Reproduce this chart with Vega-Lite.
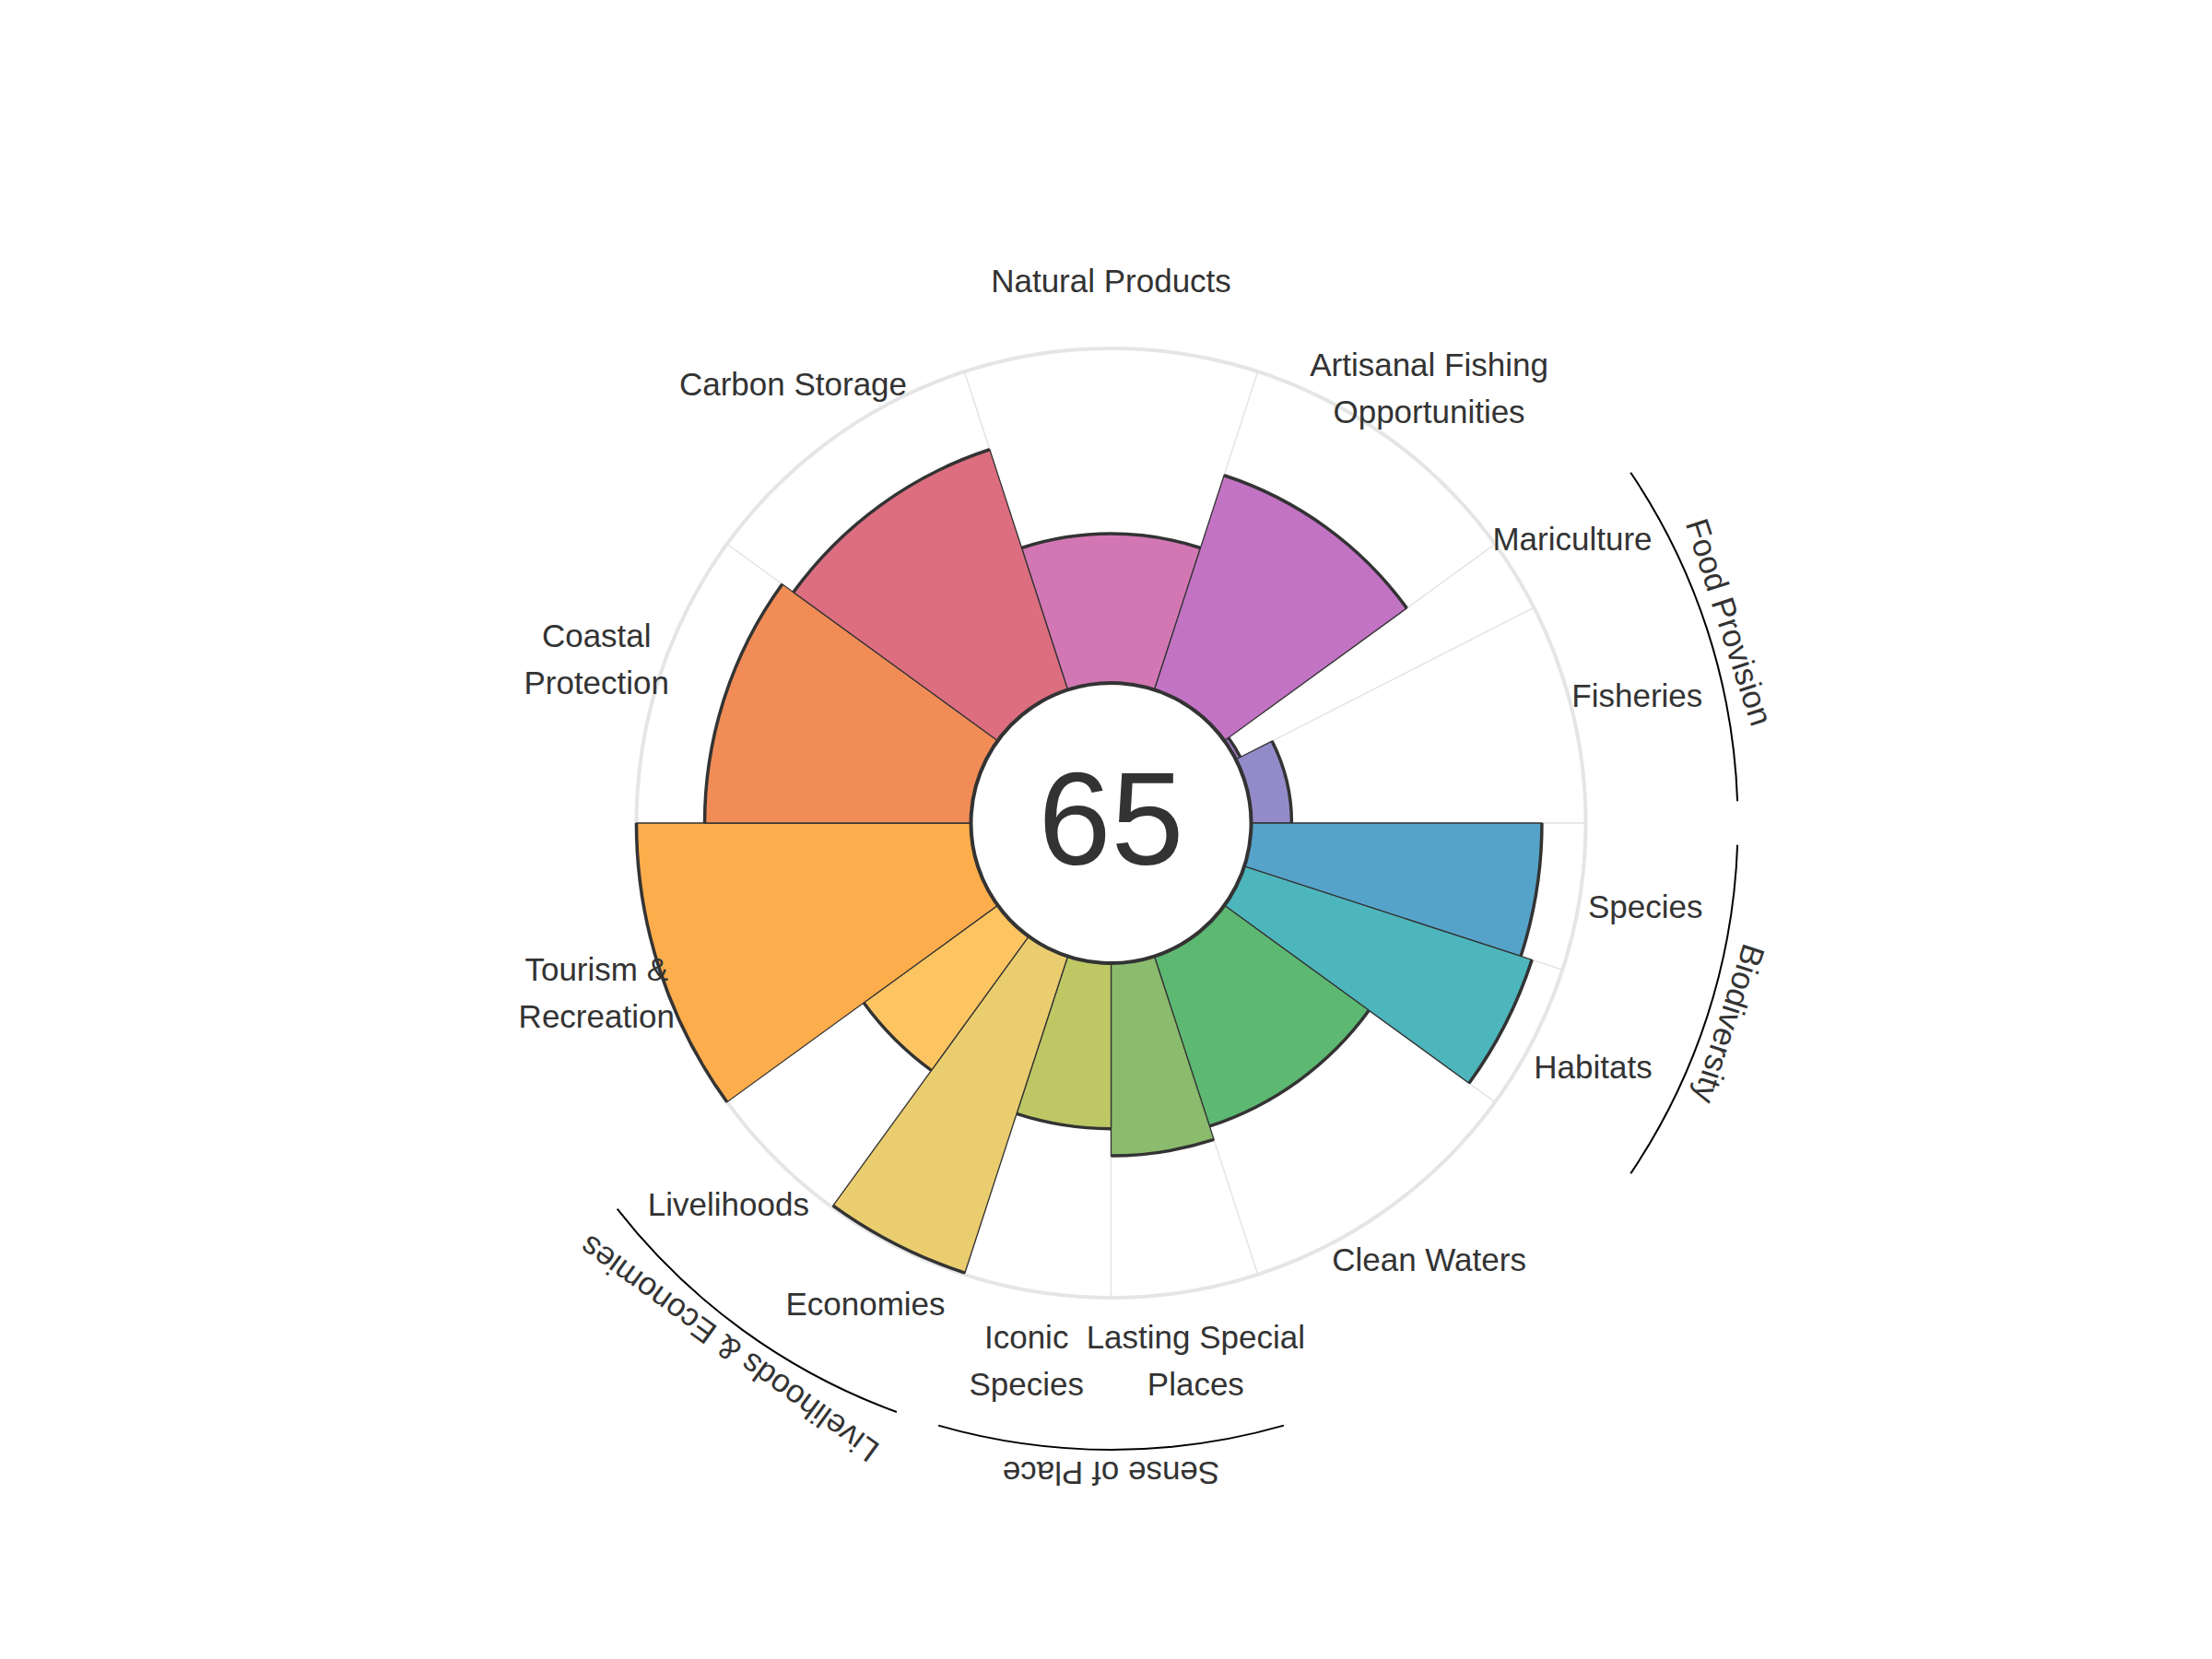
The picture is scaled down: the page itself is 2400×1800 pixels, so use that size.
{
  "$schema": "https://vega.github.io/schema/vega-lite/v6.json",
  "width": 2400,
  "height": 1800,
  "autosize": {"type": "fit", "contains": "padding"},
  "padding": {"left": 11, "top": 0, "right": 0, "bottom": 14},
  "background": "white",
  "config": {"view": {"stroke": null}, "font": "Liberation Sans"},
  "datasets": {
    "goals": [
      {"order": 1, "goal": "Natural Products", "label": "Natural Products", "score": 44.6, "weight": 36, "group": ""},
      {"order": 2, "goal": "Artisanal Fishing Opportunities", "label": "Artisanal Fishing\nOpportunities", "score": 67.4, "weight": 36, "group": ""},
      {"order": 3, "goal": "Mariculture", "label": "Mariculture", "score": 1.5, "weight": 9, "group": "Food Provision"},
      {"order": 4, "goal": "Fisheries", "label": "Fisheries", "score": 12.1, "weight": 27, "group": "Food Provision"},
      {"order": 5, "goal": "Species", "label": "Species", "score": 86.9, "weight": 18, "group": "Biodiversity"},
      {"order": 6, "goal": "Habitats", "label": "Habitats", "score": 90.4, "weight": 18, "group": "Biodiversity"},
      {"order": 7, "goal": "Clean Waters", "label": "Clean Waters", "score": 53.4, "weight": 36, "group": ""},
      {"order": 8, "goal": "Lasting Special Places", "label": "Lasting Special\nPlaces", "score": 57.6, "weight": 18, "group": "Sense of Place"},
      {"order": 9, "goal": "Iconic Species", "label": "Iconic\nSpecies", "score": 49.5, "weight": 18, "group": "Sense of Place"},
      {"order": 10, "goal": "Economies", "label": "Economies", "score": 99.5, "weight": 18, "group": "Livelihoods & Economies"},
      {"order": 11, "goal": "Livelihoods", "label": "Livelihoods", "score": 49.5, "weight": 18, "group": "Livelihoods & Economies"},
      {"order": 12, "goal": "Tourism & Recreation", "label": "Tourism &\nRecreation", "score": 100, "weight": 36, "group": ""},
      {"order": 13, "goal": "Coastal Protection", "label": "Coastal\nProtection", "score": 79.6, "weight": 36, "group": ""},
      {"order": 14, "goal": "Carbon Storage", "label": "Carbon Storage", "score": 75.5, "weight": 36, "group": ""}
    ],
    "overall": [{"index": "65"}]
  },
  "data": {"name": "goals"},
  "layer": [
    {
      "transform": [{"stack": "weight", "groupby": [], "sort": [{"field": "order", "order": "ascending"}], "as": ["s", "e"]}],
      "mark": {"type": "arc", "fill": "transparent", "stroke": "#e6e6e6", "strokeWidth": 1.3},
      "encoding": {
        "theta": {"field": "s", "type": "quantitative", "stack": null, "scale": {"domain": [0, 360], "range": [-0.3141593, 5.9690260]}},
        "theta2": {"field": "e"},
        "radius": {"datum": 100, "type": "quantitative", "scale": {"type": "linear", "domain": [0, 100], "range": [152, 515], "zero": false}},
        "radius2": {"datum": 0}
      }
    },
    {
      "data": {"name": "overall"},
      "mark": {"type": "arc", "fill": "transparent", "stroke": "#e5e5e5", "strokeWidth": 4},
      "encoding": {
        "theta": {"datum": 0, "type": "quantitative", "scale": {"domain": [0, 360], "range": [-0.3141593, 5.9690260]}},
        "theta2": {"datum": 361},
        "radius": {"datum": 100, "type": "quantitative", "scale": {"type": "linear", "domain": [0, 100], "range": [152, 515], "zero": false}},
        "radius2": {"value": 0}
      }
    },
    {
      "transform": [{"stack": "weight", "groupby": [], "sort": [{"field": "order", "order": "ascending"}], "as": ["s", "e"]}],
      "mark": {"type": "arc", "stroke": "#333333", "strokeWidth": 1.3},
      "encoding": {
        "theta": {"field": "s", "type": "quantitative", "stack": null, "scale": {"domain": [0, 360], "range": [-0.3141593, 5.9690260]}},
        "theta2": {"field": "e"},
        "radius": {"field": "score", "type": "quantitative", "scale": {"type": "linear", "domain": [0, 100], "range": [152, 515], "zero": false}},
        "radius2": {"datum": 0},
        "color": {
          "field": "goal", "type": "nominal", "legend": null,
          "scale": {
            "domain": ["Natural Products", "Artisanal Fishing Opportunities", "Mariculture", "Fisheries", "Species", "Habitats", "Clean Waters", "Lasting Special Places", "Iconic Species", "Economies", "Livelihoods", "Tourism & Recreation", "Coastal Protection", "Carbon Storage"],
            "range": ["#d277b4", "#c273c4", "#a97cca", "#938bc9", "#56a3c9", "#4db6bc", "#5db872", "#8bbb6d", "#bdc865", "#eacd6f", "#fdc562", "#fdad4b", "#f18c57", "#dc6e80"]
          }
        }
      }
    },
    {
      "transform": [{"stack": "weight", "groupby": [], "sort": [{"field": "order", "order": "ascending"}], "as": ["s", "e"]}],
      "mark": {"type": "arc", "fill": "transparent", "stroke": "#333333", "strokeWidth": 3.5},
      "encoding": {
        "theta": {"field": "s", "type": "quantitative", "stack": null, "scale": {"domain": [0, 360], "range": [-0.3141593, 5.9690260]}},
        "theta2": {"field": "e"},
        "radius": {"field": "score", "type": "quantitative", "scale": {"type": "linear", "domain": [0, 100], "range": [152, 515], "zero": false}},
        "radius2": {"field": "score"}
      }
    },
    {
      "data": {"name": "overall"},
      "mark": {"type": "arc", "fill": "white", "stroke": "#333333", "strokeWidth": 4},
      "encoding": {
        "theta": {"datum": 0, "type": "quantitative", "scale": {"domain": [0, 360], "range": [-0.3141593, 5.9690260]}},
        "theta2": {"datum": 361},
        "radius": {"datum": 0, "type": "quantitative", "scale": {"type": "linear", "domain": [0, 100], "range": [152, 515], "zero": false}},
        "radius2": {"value": 0}
      }
    },
    {
      "data": {"name": "overall"},
      "mark": {"type": "text", "radius": 0, "fontSize": 142, "fill": "#333333", "align": "center", "baseline": "middle", "dy": 2},
      "encoding": {
        "theta": {"datum": 0, "type": "quantitative", "scale": {"domain": [0, 360], "range": [-0.3141593, 5.9690260]}},
        "text": {"field": "index", "type": "nominal"}
      }
    },
    {
      "transform": [
        {"stack": "weight", "groupby": [], "sort": [{"field": "order", "order": "ascending"}], "as": ["s", "e"]},
        {"fold": ["s", "e"], "as": ["k", "v"]},
        {"aggregate": [{"op": "mean", "field": "v", "as": "mid"}], "groupby": ["order", "label"]},
        {"filter": "indexof(datum.label, '\\n') < 0"}
      ],
      "mark": {"type": "text", "radius": 587, "fontSize": 35, "fill": "#333333", "align": "center", "baseline": "middle"},
      "encoding": {
        "theta": {"field": "mid", "type": "quantitative", "stack": null, "scale": {"domain": [0, 360], "range": [-0.3141593, 5.9690260]}},
        "text": {"field": "label", "type": "nominal"}
      }
    },
    {
      "transform": [
        {"stack": "weight", "groupby": [], "sort": [{"field": "order", "order": "ascending"}], "as": ["s", "e"]},
        {"fold": ["s", "e"], "as": ["k", "v"]},
        {"aggregate": [{"op": "mean", "field": "v", "as": "mid"}], "groupby": ["order", "label"]},
        {"filter": "indexof(datum.label, '\\n') >= 0"}
      ],
      "mark": {"type": "text", "radius": 587, "fontSize": 35, "fill": "#333333", "align": "center", "baseline": "middle", "lineBreak": "\n", "lineHeight": 51, "dy": -21},
      "encoding": {
        "theta": {"field": "mid", "type": "quantitative", "stack": null, "scale": {"domain": [0, 360], "range": [-0.3141593, 5.9690260]}},
        "text": {"field": "label", "type": "nominal"}
      }
    },
    {
      "transform": [
        {"stack": "weight", "groupby": [], "sort": [{"field": "order", "order": "ascending"}], "as": ["s", "e"]},
        {"filter": "datum.group !== ''"},
        {"aggregate": [{"op": "min", "field": "s", "as": "s0"}, {"op": "max", "field": "e", "as": "e0"}], "groupby": ["group"]}
      ],
      "mark": {"type": "arc", "radius": 680, "radius2": 680, "padAngle": 0.0494, "fill": "transparent", "stroke": "#000000", "strokeWidth": 2},
      "encoding": {
        "theta": {"field": "s0", "type": "quantitative", "stack": null, "scale": {"domain": [0, 360], "range": [-0.3141593, 5.9690260]}},
        "theta2": {"field": "e0"}
      }
    },
    {
      "transform": [
        {"stack": "weight", "groupby": [], "sort": [{"field": "order", "order": "ascending"}], "as": ["s", "e"]},
        {"filter": "datum.group !== ''"},
        {"aggregate": [{"op": "min", "field": "s", "as": "s0"}, {"op": "max", "field": "e", "as": "e0"}], "groupby": ["group"]},
        {"fold": ["s0", "e0"], "as": ["k", "v"]},
        {"aggregate": [{"op": "mean", "field": "v", "as": "mid"}], "groupby": ["group"]}
      ],
      "mark": {"type": "text", "radius": 704, "fontSize": 35, "fill": "#333333", "align": "center", "baseline": "middle"},
      "encoding": {
        "theta": {"field": "mid", "type": "quantitative", "stack": null, "scale": {"domain": [0, 360], "range": [-0.3141593, 5.9690260]}},
        "angle": {"field": "mid", "type": "quantitative", "scale": {"domain": [0, 360], "range": [-18, 342]}, "legend": null},
        "text": {"field": "group", "type": "nominal"}
      }
    }
  ]
}
